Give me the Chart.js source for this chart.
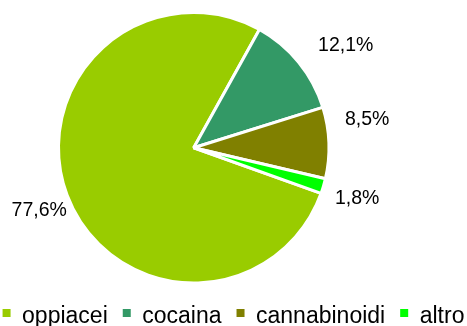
<!DOCTYPE html>
<html lang="it">
<head>
    <meta charset="UTF-8">
    <title>Sostanze</title>
    <script src="https://cdn.jsdelivr.net/npm/chart.js"></script>
    <style>
        html, body {
            margin: 0;
            padding: 0;
            background: #ffffff;
        }
        .chart-box {
            width: 467px;
            height: 326px;
        }
    </style>
</head>
<body>
    <div class="chart-box">
        <canvas id="pieChart" width="467" height="326"></canvas>
    </div>
    <script>
        const categories = ["oppiacei", "cocaina", "cannabinoidi", "altro"];
        const shares = [77.6, 12.1, 8.5, 1.8];
        const sliceColors = ["#99cc00", "#339966", "#808000", "#00ff00"];

        const fontFamily = "'Liberation Sans', Arial, sans-serif";

        function formatShare(v) {
            return v.toFixed(1).replace(".", ",") + "%";
        }

        // percentage labels outside each slice, pushed out along the slice's mid angle
        const outsideLabels = {
            id: "outsideLabels",
            afterDatasetsDraw(chart, args, opts) {
                const ctx = chart.ctx;
                const meta = chart.getDatasetMeta(0);
                ctx.save();
                ctx.font = opts.size + "px " + fontFamily;
                ctx.fillStyle = "#000000";
                ctx.textAlign = "center";
                ctx.textBaseline = "middle";
                meta.data.forEach((arc, i) => {
                    const p = arc.getProps(["x", "y", "startAngle", "endAngle", "outerRadius"], true);
                    const mid = (p.startAngle + p.endAngle) / 2;
                    const cx = Math.cos(mid), sy = Math.sin(mid);
                    const text = formatShare(shares[i]);
                    const w = ctx.measureText(text).width;
                    const h = opts.size * 0.7;
                    const r = p.outerRadius + opts.gap;
                    const nudge = opts.nudge[i] || [0, 0];
                    const tx = p.x + cx * r + cx * w / 2 + nudge[0];
                    const ty = p.y + sy * r + sy * h / 2 + nudge[1];
                    ctx.fillText(text, tx, ty);
                });
                ctx.restore();
            }
        };

        // legend row along the bottom edge: square swatch + name
        const bottomLegend = {
            id: "bottomLegend",
            afterDraw(chart, args, opts) {
                const ctx = chart.ctx;
                ctx.save();
                ctx.font = opts.size + "px " + fontFamily;
                ctx.textBaseline = "alphabetic";
                ctx.textAlign = "left";
                const gapText = opts.size / 2;
                const widths = categories.map(c => ctx.measureText(c).width);
                let total = 0;
                widths.forEach(w => total += opts.box + gapText + w);
                total += opts.spacing * (categories.length - 1);
                let x = (chart.width - total) / 2;
                categories.forEach((c, i) => {
                    ctx.fillStyle = sliceColors[i];
                    ctx.fillRect(x, opts.boxTop, opts.box, opts.box);
                    ctx.fillStyle = "#000000";
                    ctx.fillText(c, x + opts.box + gapText, opts.baseline);
                    x += opts.box + gapText + widths[i] + opts.spacing;
                });
                ctx.restore();
            }
        };

        new Chart(document.getElementById("pieChart"), {
            type: "pie",
            data: {
                labels: categories,
                datasets: [{
                    data: shares,
                    backgroundColor: sliceColors,
                    borderColor: "#ffffff",
                    borderWidth: 3,
                    hoverBorderWidth: 3,
                    hoverOffset: 0,
                    offset: 0
                }]
            },
            options: {
                responsive: false,
                animation: false,
                rotation: 109.7,
                layout: {
                    padding: { left: 57, top: 11, right: 136.5, bottom: 41.5 }
                },
                plugins: {
                    legend: { display: false },
                    tooltip: { enabled: false },
                    outsideLabels: {
                        size: 19.5,
                        gap: 15,
                        nudge: [[12, 8], [14, -3], [1, -22], [-2, 6]]
                    },
                    bottomLegend: {
                        size: 23,
                        box: 8,
                        boxTop: 309,
                        baseline: 322.5,
                        spacing: 15
                    }
                }
            },
            plugins: [outsideLabels, bottomLegend]
        });
    </script>
</body>
</html>
